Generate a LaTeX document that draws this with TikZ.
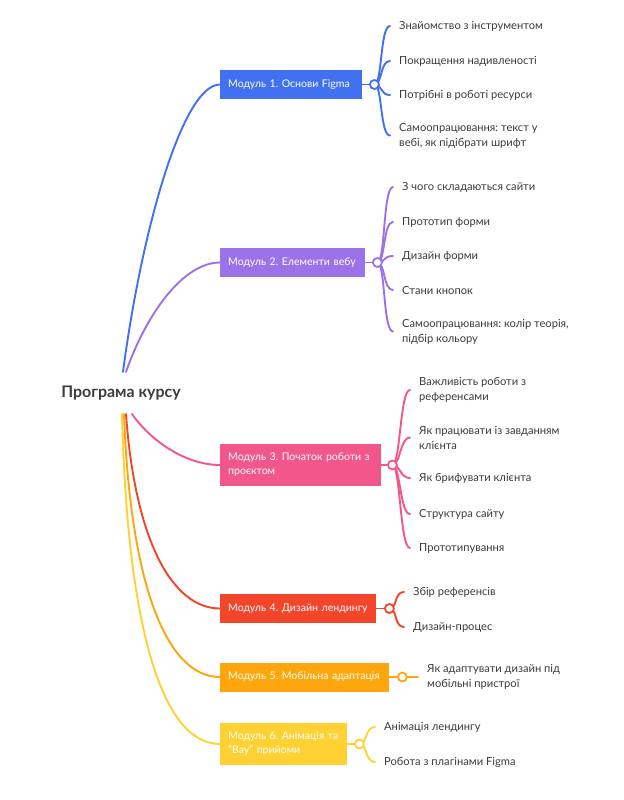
\documentclass[tikz,border=0pt]{standalone}
\usepackage{fontspec}
\setmainfont{Lato}
\frenchspacing
\usetikzlibrary{calc}
\pgfdeclarelayer{bg}
\pgfdeclarelayer{paper}
\pgfsetlayers{paper,bg,main}
\definecolor{cA}{HTML}{4170F0}
\definecolor{cB}{HTML}{9C72E8}
\definecolor{cC}{HTML}{F2578C}
\definecolor{cD}{HTML}{F2452A}
\definecolor{cE}{HTML}{FFA60D}
\definecolor{cF}{HTML}{FFD133}
\definecolor{txt}{HTML}{3C3C3C}
\tikzset{
  modbox/.style={fill=#1, text=white, anchor=west, inner xsep=8bp, inner ysep=0bp, minimum height=29bp, font=\fontsize{10.6}{14}\selectfont, align=left},
  leaf/.style={anchor=west, inner xsep=9bp, inner ysep=1bp, text=txt, font=\fontsize{11.2}{15}\selectfont, align=left},
  dot/.style={circle, draw=#1, fill=white, line width=1.8bp, minimum size=9bp, inner sep=0bp},
  conn/.style={draw=#1, line width=1.9bp, line cap=round},
}
\newcommand{\kid}[3]{\draw[conn=#1] (#2.center) .. controls ($(#2.center)+(8,0)$) and ($(#3.west)+(-10,0)$) .. (#3.west);}
\begin{document}
\begin{tikzpicture}[x=1bp,y=-1bp]
\useasboundingbox (0,0) rectangle (624,800);
\begin{pgfonlayer}{paper}
\fill[white] (0,0) rectangle (624,800);
\end{pgfonlayer}

% root
\node[font=\fontsize{16}{19}\selectfont\bfseries, text=txt, inner sep=0bp] (root) at (121,393) {Програма курсу};
\coordinate (rA) at (123,372);
\coordinate (rB) at (126,372);
\coordinate (rC) at (132,414);
\coordinate (rD) at (126,414);
\coordinate (rE) at (124,414);
\coordinate (rF) at (122,414);

% modules
\node[modbox=cA, text width=126bp] (m1) at (220,84.5) {\mbox{Модуль 1. Основи Figma}};
\node[modbox=cB, text width=129bp] (m2) at (220,262.5) {\mbox{Модуль 2. Елементи вебу}};
\node[modbox=cC, text width=145bp, minimum height=42bp] (m3) at (220,465) {\mbox{Модуль 3. Початок роботи з}\\\mbox{проєктом}};
\node[modbox=cD, text width=140bp] (m4) at (220,608.5) {\mbox{Модуль 4. Дизайн лендингу}};
\node[modbox=cE, text width=153bp] (m5) at (220,677) {\mbox{Модуль 5. Мобільна адаптація}};
\node[modbox=cF, text width=111bp, minimum height=42bp] (m6) at (220,744) {\mbox{Модуль 6. Анімація та}\\\mbox{"Вау" прийоми}};

% dots
\node[dot=cA] (d1) at ($(m1.east)+(12,0)$) {};
\node[dot=cB] (d2) at ($(m2.east)+(12,0)$) {};
\node[dot=cC] (d3) at ($(m3.east)+(11,0)$) {};
\node[dot=cD] (d4) at ($(m4.east)+(13,0)$) {};
\node[dot=cE] (d5) at ($(m5.east)+(13,0)$) {};
\node[dot=cF] (d6) at ($(m6.east)+(12,0)$) {};

% leaves
\node[leaf] (a1) at (390,26) {Знайомство з інструментом};
\node[leaf] (a2) at (390,61) {Покращення надивленості};
\node[leaf] (a3) at (390,95) {Потрібні в роботі ресурси};
\node[leaf] (a4) at (390,135.5) {Самоопрацювання: текст у\\вебі, як підібрати шрифт};

\node[leaf] (b1) at (393,187) {З чого складаються сайти};
\node[leaf] (b2) at (393,222) {Прототип форми};
\node[leaf] (b3) at (393,256) {Дизайн форми};
\node[leaf] (b4) at (393,290) {Стани кнопок};
\node[leaf] (b5) at (393,331.5) {Самоопрацювання: колір теорія,\\підбір кольору};

\node[leaf] (c1) at (410,390) {Важливість роботи з\\референсами};
\node[leaf] (c2) at (410,437.5) {Як працювати із завданням\\клієнта};
\node[leaf] (c3) at (410,478) {Як брифувати клієнта};
\node[leaf] (c4) at (410,514) {Структура сайту};
\node[leaf] (c5) at (410,548) {Прототипування};

\node[leaf] (e1) at (404,592) {Збір референсів};
\node[leaf] (e2) at (404,627) {Дизайн-процес};

\node[leaf] (f1) at (418,677) {Як адаптувати дизайн під\\мобільні пристрої};

\node[leaf] (g1) at (375,727) {Анімація лендингу};
\node[leaf] (g2) at (375,762) {Робота з плагінами Figma};

\begin{pgfonlayer}{bg}
% root connectors
\draw[conn=cF] (rF) .. controls (127,620) and (160,744) .. (m6.west);
\draw[conn=cE] (rE) .. controls (130,580) and (165,677) .. (m5.west);
\draw[conn=cD] (rD) .. controls (135,540) and (172,608.5) .. (m4.west);
\draw[conn=cC] (rC) .. controls (150,440) and (185,465) .. (m3.west);
\draw[conn=cB] (rB) .. controls (145,317) and (182,262.5) .. (m2.west);
\draw[conn=cA] (rA) .. controls (142,228) and (183,84.5) .. (m1.west);
% box to dot
\draw[conn=cA] (m1.east) -- (d1.center);
\draw[conn=cB] (m2.east) -- (d2.center);
\draw[conn=cC] (m3.east) -- (d3.center);
\draw[conn=cD] (m4.east) -- (d4.center);
\draw[conn=cE] (m5.east) -- (d5.center);
\draw[conn=cF] (m6.east) -- (d6.center);
% dot to leaves
\kid{cA}{d1}{a1}\kid{cA}{d1}{a2}\kid{cA}{d1}{a3}\kid{cA}{d1}{a4}
\kid{cB}{d2}{b1}\kid{cB}{d2}{b2}\kid{cB}{d2}{b3}\kid{cB}{d2}{b4}\kid{cB}{d2}{b5}
\kid{cC}{d3}{c1}\kid{cC}{d3}{c2}\kid{cC}{d3}{c3}\kid{cC}{d3}{c4}\kid{cC}{d3}{c5}
\kid{cD}{d4}{e1}\kid{cD}{d4}{e2}
\draw[conn=cE] (d5.center) -- (f1.west);
\kid{cF}{d6}{g1}\kid{cF}{d6}{g2}
\end{pgfonlayer}
\end{tikzpicture}
\end{document}
